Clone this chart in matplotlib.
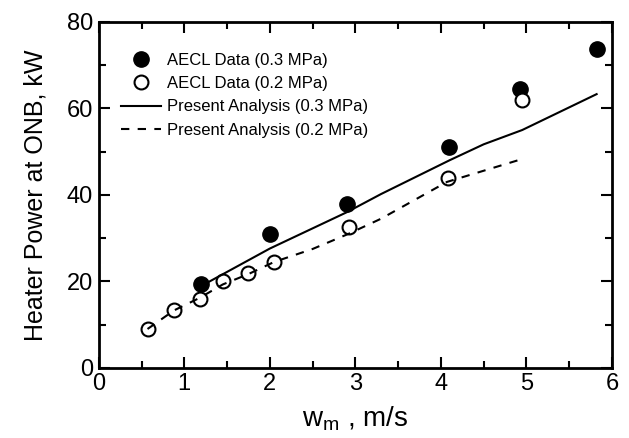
import numpy as np
import matplotlib.pyplot as plt
from matplotlib.ticker import MultipleLocator

plt.rcParams["font.family"] = "Liberation Sans"

# AECL data
w_03 = [1.2, 2.0, 2.9, 4.1, 4.92, 5.82]
p_03 = [19.5, 31.0, 38.0, 51.0, 64.5, 73.8]
w_02 = [0.57, 0.88, 1.18, 1.45, 1.75, 2.05, 2.92, 4.08, 4.95]
p_02 = [9.0, 13.5, 16.0, 20.0, 22.0, 24.5, 32.5, 44.0, 62.0]

# present analysis
wa_03 = [1.25, 2.0, 2.9, 3.3, 4.1, 4.5, 4.95, 5.82]
pa_03 = [19.5, 27.6, 36.0, 40.2, 48.0, 51.7, 55.0, 63.3]
wa_02 = [0.57, 0.88, 1.18, 1.45, 1.75, 2.05, 2.5, 2.92, 3.3, 4.07, 4.9]
pa_02 = [9.0, 13.3, 16.2, 19.3, 21.7, 24.5, 27.5, 31.0, 34.5, 43.0, 48.0]

fig = plt.figure(figsize=(6.29, 4.38), dpi=100)
ax = fig.add_axes([0.157, 0.160, 0.816, 0.790])

ax.plot(w_03, p_03, "o", color="black", markersize=11, label="AECL Data (0.3 MPa)")
ax.plot(w_02, p_02, "o", color="black", markerfacecolor="white", markersize=10,
        markeredgewidth=1.5, label="AECL Data (0.2 MPa)")
ax.plot(wa_03, pa_03, "-", color="black", linewidth=1.5, label="Present Analysis (0.3 MPa)")
ax.plot(wa_02, pa_02, "--", color="black", linewidth=1.5, dashes=(4, 4),
        label="Present Analysis (0.2 MPa)")

ax.set_xlim(0, 6)
ax.set_ylim(0, 80)
ax.xaxis.set_major_locator(MultipleLocator(1))
ax.xaxis.set_minor_locator(MultipleLocator(0.5))
ax.yaxis.set_major_locator(MultipleLocator(20))
ax.yaxis.set_minor_locator(MultipleLocator(10))
ax.tick_params(which="both", direction="in", top=True, right=True, width=1.5, labelsize=17)
ax.tick_params(which="major", length=8, pad=4)
ax.tick_params(which="minor", length=5)
for s in ax.spines.values():
    s.set_linewidth(2)

ax.set_xlabel(r"w$_\mathregular{m}$ , m/s", fontsize=20, labelpad=6)
ax.set_ylabel("Heater Power at ONB, kW", fontsize=18, labelpad=14)

ax.legend(loc="upper left", frameon=False, fontsize=12, handlelength=2.4,
          handletextpad=0.4, labelspacing=0.5, borderaxespad=0.0,
          bbox_to_anchor=(0.03, 0.93))

fig.savefig("out.png", dpi=100)
